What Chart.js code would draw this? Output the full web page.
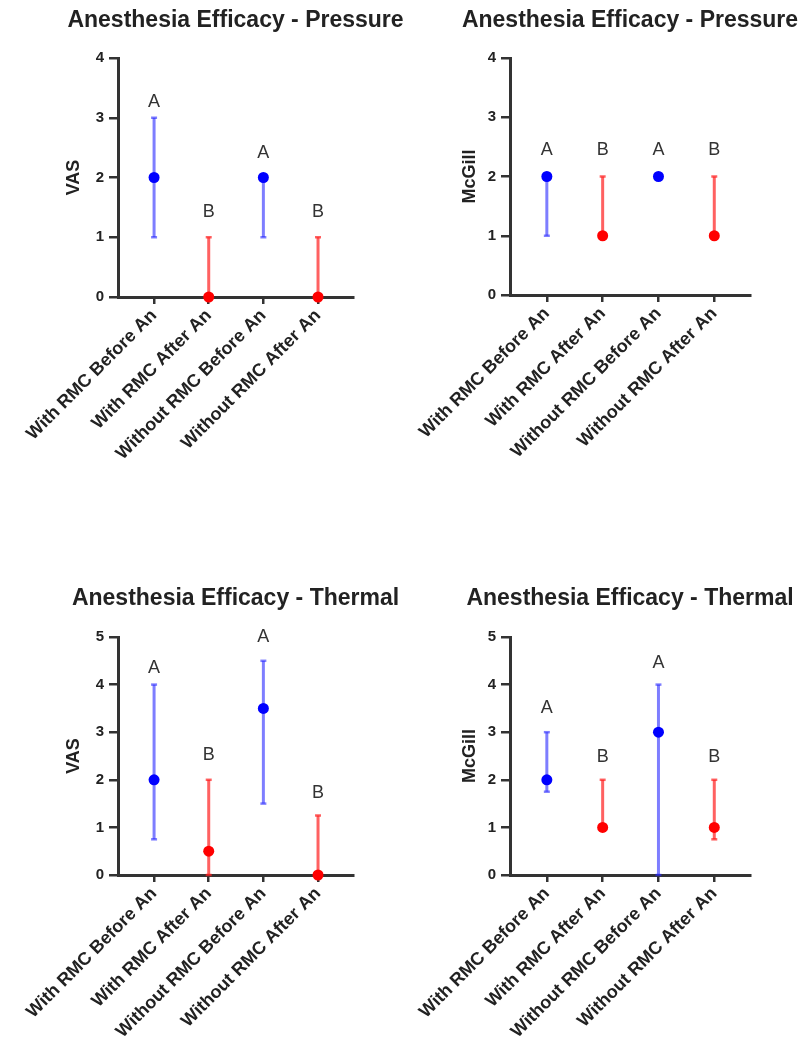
<!DOCTYPE html>
<html>
<head>
<meta charset="utf-8">
<script src="https://cdn.jsdelivr.net/npm/chart.js@4.4.1/dist/chart.umd.min.js"></script>
<style>
  body { margin: 0; background: #fff; width: 799px; height: 1041px; position: relative; overflow: hidden; }
  canvas { position: absolute; }
</style>
</head>
<body>
<canvas id="c1" width="430" height="480" style="left:0;top:0"></canvas>
<canvas id="c2" width="399" height="480" style="left:400px;top:0"></canvas>
<canvas id="c3" width="430" height="481" style="left:0;top:560px"></canvas>
<canvas id="c4" width="399" height="481" style="left:400px;top:560px"></canvas>
<script>
// groups on the x axis
const categories = ['With RMC Before An', 'With RMC After An', 'Without RMC Before An', 'Without RMC After An'];
const pointColors = ['#0000ff', '#ff0000', '#0000ff', '#ff0000'];
const barColors = ['rgba(40,40,255,0.6)', 'rgba(255,30,30,0.7)', 'rgba(40,40,255,0.6)', 'rgba(255,30,30,0.7)'];
const letters = ['A', 'B', 'A', 'B'];

// Pressure - VAS
const pVasMedian = [2, 0, 2, 0];
const pVasLow = [1, 0, 1, 0];
const pVasHigh = [3, 1, 2, 1];
const pVasLetterY = [3.26, 1.42, 2.41, 1.42];

// Pressure - McGill
const pMcgMedian = [2, 1, 2, 1];
const pMcgLow = [1, 1, 2, 1];
const pMcgHigh = [2, 2, 2, 2];
const pMcgLetterY = [2.45, 2.45, 2.45, 2.45];

// Thermal - VAS
const tVasMedian = [2, 0.5, 3.5, 0];
const tVasLow = [0.75, 0, 1.5, 0];
const tVasHigh = [4, 2, 4.5, 1.25];
const tVasLetterY = [4.35, 2.52, 5.0, 1.72];

// Thermal - McGill
const tMcgMedian = [2, 1, 3, 1];
const tMcgLow = [1.75, 1, 0, 0.75];
const tMcgHigh = [3, 2, 4, 2];
const tMcgLetterY = [3.5, 2.48, 4.45, 2.48];

const yTicksPressure = [0, 1, 2, 3, 4];
const yTicksThermal = [0, 1, 2, 3, 4, 5];

const FONT = 'Arial, Helvetica, sans-serif';
const AXIS = '#333';

function makePanel(id, p) {
  const datasets = [];
  // medians on top
  datasets.push({
    type: 'scatter',
    data: p.median.map((v, i) => ({x: i, y: v})),
    pointRadius: 5.5,
    pointBackgroundColor: pointColors,
    pointBorderColor: pointColors,
    pointBorderWidth: 0,
    clip: false
  });
  // range bars
  for (let i = 0; i < categories.length; i++) {
    datasets.push({
      type: 'line',
      data: [{x: i, y: p.low[i]}, {x: i, y: p.high[i]}],
      borderColor: barColors[i],
      borderWidth: 3,
      pointStyle: 'line',
      pointRadius: 3,
      pointBorderWidth: 2.5,
      pointBorderColor: barColors[i],
      clip: false
    });
  }

  // letters above each group + the panel title (title drawn here so it is not squeezed to the plot width)
  const textPlugin = {
    id: 'text' + id,
    afterDatasetsDraw(chart) {
      const ctx = chart.ctx;
      const xs = chart.scales.x, ys = chart.scales.y;
      const area = chart.chartArea;
      ctx.save();
      ctx.font = '18px ' + FONT;
      ctx.fillStyle = '#333';
      ctx.textAlign = 'center';
      ctx.textBaseline = 'middle';
      letters.forEach((t, i) => {
        ctx.fillText(t, xs.getPixelForValue(i), ys.getPixelForValue(p.letterY[i]));
      });
      ctx.font = 'bold 23px ' + FONT;
      ctx.fillStyle = '#222';
      ctx.fillText(p.title, (area.left + area.right) / 2, p.titleY);
      ctx.restore();
    }
  };

  new Chart(document.getElementById(id), {
    type: 'scatter',
    data: {datasets: datasets},
    plugins: [textPlugin],
    options: {
      responsive: false,
      animation: false,
      events: [],
      layout: {padding: {left: p.padLeft, right: p.padRight, top: p.padTop, bottom: 0}},
      plugins: {
        legend: {display: false},
        tooltip: {enabled: false},
        title: {display: false}
      },
      scales: {
        x: {
          type: 'linear',
          min: -0.66,
          max: 3.64,
          afterBuildTicks: s => { s.ticks = categories.map((c, i) => ({value: i})); },
          afterFit: s => { s.height = p.xHeight; },
          border: {display: true, color: AXIS, width: 3},
          grid: {drawOnChartArea: false, drawTicks: true, tickLength: 7, color: AXIS, lineWidth: 2.5},
          ticks: {
            autoSkip: false,
            minRotation: 45,
            maxRotation: 45,
            padding: 1,
            color: '#222',
            font: {family: FONT, size: 18, weight: 'bold'},
            callback: v => categories[v]
          }
        },
        y: {
          type: 'linear',
          min: 0,
          max: p.yTicks[p.yTicks.length - 1],
          afterBuildTicks: s => { s.ticks = p.yTicks.map(v => ({value: v})); },
          afterFit: s => { s.width = p.yWidth; },
          border: {display: true, color: AXIS, width: 3},
          grid: {drawOnChartArea: false, drawTicks: true, tickLength: 9, color: AXIS, lineWidth: 2.5},
          ticks: {
            padding: 5,
            color: '#222',
            font: {family: FONT, size: 15, weight: 'bold'}
          },
          title: {
            display: true,
            text: p.yTitle,
            color: '#222',
            padding: 0,
            font: {family: FONT, size: 18, weight: 'bold'}
          }
        }
      }
    }
  });
}

makePanel('c1', {
  title: 'Anesthesia Efficacy - Pressure', yTitle: 'VAS',
  median: pVasMedian, low: pVasLow, high: pVasHigh, letterY: pVasLetterY, yTicks: yTicksPressure,
  padLeft: 63, padRight: 77, padTop: 58, yWidth: 55, xHeight: 183, titleY: 21
});
makePanel('c2', {
  title: 'Anesthesia Efficacy - Pressure', yTitle: 'McGill',
  median: pMcgMedian, low: pMcgLow, high: pMcgHigh, letterY: pMcgLetterY, yTicks: yTicksPressure,
  padLeft: 59, padRight: 49, padTop: 58, yWidth: 51, xHeight: 185, titleY: 21
});
makePanel('c3', {
  title: 'Anesthesia Efficacy - Thermal', yTitle: 'VAS',
  median: tVasMedian, low: tVasLow, high: tVasHigh, letterY: tVasLetterY, yTicks: yTicksThermal,
  padLeft: 63, padRight: 77, padTop: 77, yWidth: 55, xHeight: 166, titleY: 39
});
makePanel('c4', {
  title: 'Anesthesia Efficacy - Thermal', yTitle: 'McGill',
  median: tMcgMedian, low: tMcgLow, high: tMcgHigh, letterY: tMcgLetterY, yTicks: yTicksThermal,
  padLeft: 59, padRight: 49, padTop: 77, yWidth: 51, xHeight: 166, titleY: 39
});
</script>
</body>
</html>
